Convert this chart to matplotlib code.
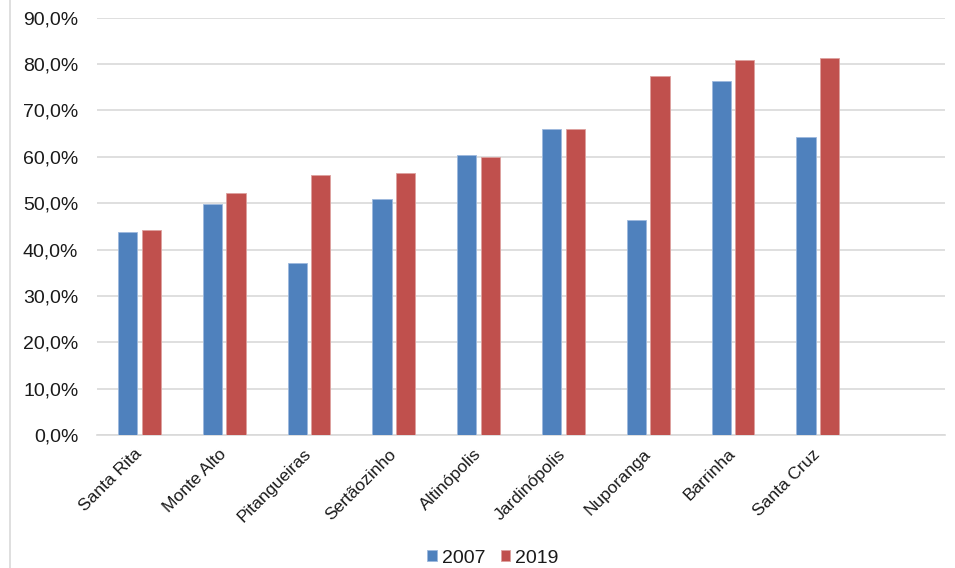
import numpy as np
import matplotlib
matplotlib.use("Agg")
import matplotlib.pyplot as plt
from matplotlib.ticker import FuncFormatter
from matplotlib.lines import Line2D

# data
cities = ["Santa Rita", "Monte Alto", "Pitangueiras", "Sertãozinho", "Altinópolis",
          "Jardinópolis", "Nuporanga", "Barrinha", "Santa Cruz"]
vals_2007 = [0.438, 0.499, 0.372, 0.508, 0.603, 0.659, 0.463, 0.764, 0.642]
vals_2019 = [0.442, 0.523, 0.561, 0.564, 0.600, 0.659, 0.774, 0.809, 0.813]
years = ["2007", "2019"]
colors = ["#4F81BD", "#C0504D"]

plt.rcParams['font.family'] = ['Liberation Sans', 'DejaVu Sans']

fig = plt.figure(figsize=(9.55, 5.68), dpi=100)
ax = fig.add_axes([0.1016, 0.2342, 0.8879, 0.7346])

x = np.arange(len(cities))
w = 0.228
ax.bar(x - 0.139, vals_2007, w, color=colors[0], edgecolor="#9DB9DD", linewidth=0.6,
       label=years[0], zorder=3)
ax.bar(x + 0.139, vals_2019, w, color=colors[1], edgecolor="#DDA09E", linewidth=0.6,
       label=years[1], zorder=3)

# one empty slot at the right, like the original
ax.set_xlim(-0.5, len(cities) + 0.5)
ax.set_ylim(0, 0.9)
ax.set_yticks(np.arange(0, 0.91, 0.1))
ax.yaxis.set_major_formatter(FuncFormatter(lambda v, p: f"{v*100:.1f}%".replace(".", ",")))
ax.grid(axis="y", color="#D9D9D9", linewidth=1.2, zorder=0)
for s in ["top", "right", "left"]:
    ax.spines[s].set_visible(False)
ax.spines["bottom"].set_color("#D9D9D9")
ax.spines["bottom"].set_linewidth(1.2)
ax.tick_params(axis="y", length=0, pad=13.5, labelsize=14, labelcolor="#1a1a1a")
ax.tick_params(axis="x", length=0, pad=12, labelsize=12.5, labelcolor="#1a1a1a")
ax.set_xticks(x)
ax.set_xticklabels(cities, rotation=45, ha="right", va="center", rotation_mode="anchor")

fig.legend(loc="center", bbox_to_anchor=(0.516, 0.0176), ncol=2, frameon=False,
           fontsize=14, handlelength=0.47, handleheight=0.5, handletextpad=0.26,
           columnspacing=0.8, borderpad=0, labelcolor="#1a1a1a")

# thin frame line on the left edge of the picture
fig.add_artist(Line2D([10 / 955, 10 / 955], [0, 1], color="#D9D9D9", linewidth=1.2))

fig.savefig("out.png", dpi=100)
